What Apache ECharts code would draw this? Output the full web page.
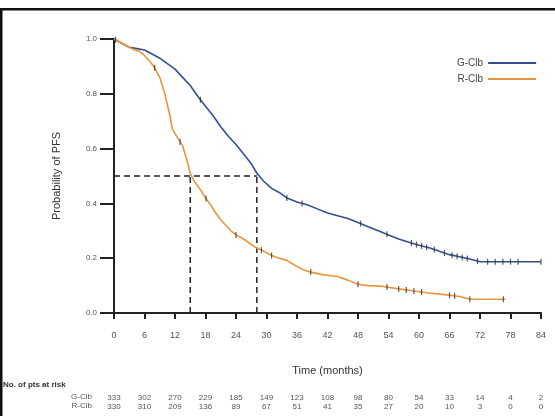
<!DOCTYPE html>
<html><head><meta charset="utf-8">
<script src="https://cdn.jsdelivr.net/npm/echarts@6/dist/echarts.min.js"></script>
<style>html,body{margin:0;padding:0;background:#fff}#c{width:555px;height:416px}</style>
</head><body><div id="c"></div>
<script>
// Kaplan-Meier PFS, G-Clb
const gTime = [0,1,2,3,4.5,6,7.5,9,10.5,12,13.5,15,16.5,18,19.5,21,22.5,24,25.5,27,28.1,29.5,31,32.5,34,36,38,40,42,44,46,48,50,52,54,56,58,60,62,64,66,68,70,72,84];
const gSurv = [1.0,0.99,0.98,0.97,0.965,0.96,0.945,0.93,0.91,0.89,0.86,0.83,0.79,0.755,0.72,0.68,0.645,0.615,0.58,0.545,0.51,0.48,0.455,0.44,0.42,0.405,0.395,0.38,0.365,0.355,0.345,0.33,0.315,0.30,0.285,0.27,0.258,0.247,0.238,0.225,0.213,0.205,0.197,0.187,0.187];
// R-Clb
const rTime = [0,1,2,3,4,5,6,7,8,9,10,11,11.5,12.5,13.5,14.3,15,16,17,18,19,20,21,22,23,24,25.5,27,28.1,29.5,31,32.5,34,35.5,37,38.5,41,44,46,48,50,53,56,59,62,65,68,70,77];
const rSurv = [1.0,0.99,0.98,0.97,0.96,0.955,0.94,0.92,0.895,0.86,0.80,0.72,0.67,0.64,0.61,0.56,0.51,0.475,0.45,0.42,0.395,0.365,0.34,0.32,0.30,0.285,0.27,0.25,0.237,0.225,0.21,0.20,0.192,0.175,0.16,0.15,0.14,0.133,0.12,0.105,0.10,0.097,0.088,0.08,0.073,0.067,0.06,0.05,0.05];
// censor times
const gCensor = [0.3,17,34,37,48.5,53.7,58.5,59.5,60.5,61.5,63,65,66.5,67.5,68.5,69.5,71.5,73.5,75,76.5,78,79.5,84];
const rCensor = [8,13,18.1,24,29,31,38.7,48,53.7,56,57.5,59,60.5,66,67,70,76.6];
// medians
const medianG = 28.1, medianR = 15.0;
// axis ticks & risk table
const xTicks = [0,6,12,18,24,30,36,42,48,54,60,66,72,78,84];
const riskG = [333,302,270,229,185,149,123,108,98,80,54,33,14,4,2];
const riskR = [330,310,209,136,89,67,51,41,35,27,20,10,3,0,0];

const BLUE = '#34508f', ORANGE = '#e8963e';
const FONT = '"Liberation Sans", Arial, sans-serif';

function pairs(t, s){ return t.map((v,i)=>[v, s[i]]); }
function survAt(t, times, surv){
  for (let i=1;i<times.length;i++){
    if (times[i] >= t){ const f=(t-times[i-1])/(times[i]-times[i-1]); return surv[i-1]+f*(surv[i]-surv[i-1]); }
  }
  return surv[surv.length-1];
}

const chart = echarts.init(document.getElementById('c'), null, {renderer:'canvas'});
const extraAxis = (arr, margin) => ({
  type:'value', min:0, max:84, interval:6, position:'bottom',
  axisLine:{show:false}, axisTick:{show:false}, splitLine:{show:false},
  axisLabel:{margin: margin, fontSize:8, color:'#555', fontFamily:FONT, showMinLabel:true, showMaxLabel:true,
    formatter: v => { const i = xTicks.indexOf(v); return i >= 0 ? String(arr[i]) : ''; } }
});

chart.setOption({
  animation:false,
  backgroundColor:'#fff',
  grid:{left:114, right:14, top:39, bottom:103, containLabel:false},
  legend:{
    data:['G-Clb','R-Clb'], orient:'vertical', left:452, top:53, align:'right',
    icon:'rect', itemWidth:48, itemHeight:2, itemGap:6,
    textStyle:{fontSize:10, color:'#444', fontFamily:FONT}
  },
  xAxis:[
    { type:'value', min:0, max:84, interval:6,
      name:'Time (months)', nameLocation:'middle', nameGap:52,
      nameTextStyle:{fontSize:11, color:'#333', fontFamily:FONT},
      axisLine:{lineStyle:{color:'#222', width:2}},
      axisTick:{length:6, lineStyle:{color:'#222', width:2}},
      axisLabel:{margin:18, fontSize:9, color:'#555', fontFamily:FONT},
      splitLine:{show:false} },
    extraAxis(riskG, 81),
    extraAxis(riskR, 90)
  ],
  yAxis:{ type:'value', min:0, max:1, interval:0.2,
    name:'Probability of PFS', nameLocation:'middle', nameGap:52, nameRotate:90,
    nameTextStyle:{fontSize:11, color:'#333', fontFamily:FONT},
    axisLine:{show:true, lineStyle:{color:'#222', width:2}},
    axisTick:{show:true, length:14, lineStyle:{color:'#222', width:2}},
    axisLabel:{margin:17, fontSize:8, color:'#555', fontFamily:FONT, formatter: v => v.toFixed(1)},
    splitLine:{show:false} },
  series:[
    { name:'G-Clb', type:'line', data:pairs(gTime,gSurv), symbol:'none',
      lineStyle:{color:BLUE, width:1.6}, itemStyle:{color:BLUE}, z:3 },
    { name:'R-Clb', type:'line', data:pairs(rTime,rSurv), symbol:'none',
      lineStyle:{color:ORANGE, width:1.6}, itemStyle:{color:ORANGE}, z:3 },
    { name:'gc', type:'scatter', data:gCensor.map(t=>[t, survAt(t,gTime,gSurv)]),
      symbol:'rect', symbolSize:[1.2,6], itemStyle:{color:'#333'}, z:4 },
    { name:'rc', type:'scatter', data:rCensor.map(t=>[t, survAt(t,rTime,rSurv)]),
      symbol:'rect', symbolSize:[1.2,6], itemStyle:{color:'#333'}, z:4 },
    { name:'mh', type:'line', data:[[0,0.5],[medianG,0.5]], symbol:'none',
      lineStyle:{color:'#222', width:1.5, type:[6,4]}, z:2 },
    { name:'mvR', type:'line', data:[[medianR,0],[medianR,0.5]], symbol:'none',
      lineStyle:{color:'#222', width:1.5, type:[6,4]}, z:2 },
    { name:'mvG', type:'line', data:[[medianG,0],[medianG,0.5]], symbol:'none',
      lineStyle:{color:'#222', width:1.5, type:[6,4]}, z:2 }
  ],
  graphic:[
    { type:'rect', shape:{x:0, y:8, width:555, height:2.5}, style:{fill:'#111'} },
    { type:'rect', shape:{x:0, y:8, width:2.5, height:408}, style:{fill:'#111'} },
    { type:'text', left:3, top:381, style:{text:'No. of pts at risk', fontSize:8, fill:'#333', fontWeight:'bold', fontFamily:FONT} },
    { type:'text', right:463, top:393, style:{text:'G-Clb', fontSize:8, fill:'#555', fontFamily:FONT} },
    { type:'text', right:463, top:402, style:{text:'R-Clb', fontSize:8, fill:'#555', fontFamily:FONT} }
  ]
});
</script></body></html>
